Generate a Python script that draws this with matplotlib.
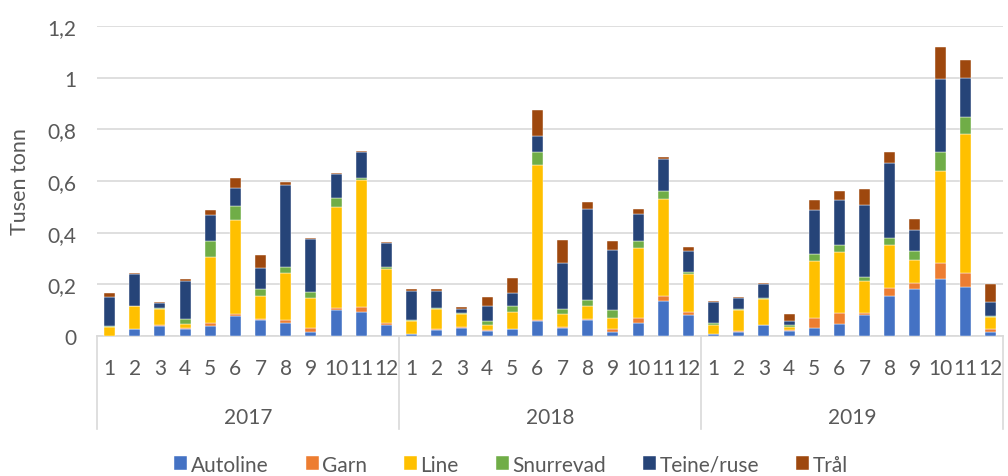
import matplotlib
matplotlib.use('Agg')
import matplotlib.pyplot as plt
from matplotlib.lines import Line2D
import numpy as np

# Landings per month and gear, thousand tonnes (2017-2019)
years = ['2017', '2018', '2019']
months = [str(m) for m in range(1, 13)]

autoline = [0.000, 0.027, 0.038, 0.027, 0.038, 0.076, 0.062, 0.052, 0.017, 0.102, 0.092, 0.043,
            0.007, 0.022, 0.032, 0.019, 0.027, 0.057, 0.031, 0.061, 0.017, 0.050, 0.136, 0.081,
            0.008, 0.017, 0.041, 0.018, 0.031, 0.047, 0.081, 0.156, 0.181, 0.221, 0.190, 0.017]
garn = [0.000, 0.002, 0.003, 0.005, 0.011, 0.010, 0.002, 0.010, 0.014, 0.005, 0.022, 0.006,
        0.002, 0.005, 0.003, 0.006, 0.002, 0.005, 0.005, 0.005, 0.009, 0.021, 0.020, 0.011,
        0.001, 0.001, 0.001, 0.004, 0.040, 0.043, 0.009, 0.030, 0.024, 0.063, 0.055, 0.010]
line = [0.036, 0.087, 0.062, 0.014, 0.256, 0.364, 0.092, 0.183, 0.115, 0.392, 0.489, 0.212,
        0.049, 0.076, 0.051, 0.016, 0.063, 0.599, 0.050, 0.050, 0.045, 0.268, 0.376, 0.149,
        0.034, 0.083, 0.100, 0.014, 0.218, 0.234, 0.124, 0.168, 0.090, 0.353, 0.535, 0.048]
snurrevad = [0.003, 0.002, 0.004, 0.020, 0.064, 0.054, 0.025, 0.021, 0.025, 0.035, 0.009, 0.005,
             0.005, 0.004, 0.002, 0.016, 0.024, 0.051, 0.019, 0.025, 0.030, 0.029, 0.030, 0.005,
             0.006, 0.002, 0.005, 0.007, 0.030, 0.030, 0.016, 0.025, 0.034, 0.074, 0.066, 0.004]
teine = [0.113, 0.122, 0.020, 0.148, 0.099, 0.070, 0.084, 0.318, 0.205, 0.094, 0.101, 0.093,
         0.113, 0.069, 0.018, 0.059, 0.051, 0.064, 0.179, 0.351, 0.232, 0.106, 0.125, 0.083,
         0.084, 0.043, 0.053, 0.014, 0.169, 0.174, 0.278, 0.289, 0.081, 0.284, 0.154, 0.052]
tral = [0.014, 0.005, 0.005, 0.005, 0.019, 0.038, 0.049, 0.014, 0.004, 0.002, 0.004, 0.005,
        0.005, 0.005, 0.005, 0.035, 0.058, 0.099, 0.089, 0.025, 0.035, 0.019, 0.005, 0.017,
        0.003, 0.005, 0.005, 0.028, 0.039, 0.035, 0.060, 0.044, 0.042, 0.124, 0.070, 0.069]

series = [('Autoline', autoline, '#4472C4'),
          ('Garn', garn, '#ED7D31'),
          ('Line', line, '#FFC000'),
          ('Snurrevad', snurrevad, '#70AD47'),
          ('Teine/ruse', teine, '#264478'),
          ('Trål', tral, '#9E480E')]

TEXT = '#595959'
GRID = '#D9D9D9'
plt.rcParams['font.family'] = ['Lato', 'DejaVu Sans']
plt.rcParams['text.color'] = TEXT

fig = plt.figure(figsize=(10.08, 4.77), dpi=100)
ax = fig.add_axes([0.0962, 0.2935, 0.8988, 0.6499])

n = len(autoline)
x = np.arange(n)
bottom = np.zeros(n)
for name, vals, col in series:
    vals = np.array(vals)
    ax.bar(x, vals, width=0.44, bottom=bottom, color=col, label=name,
           edgecolor='white', linewidth=0.3, zorder=3)
    bottom += vals

ax.set_xlim(-0.5, n - 0.5)
ax.set_ylim(0, 1.2)
ax.set_yticks(np.arange(0, 1.21, 0.2))
ax.set_yticklabels(['0', '0,2', '0,4', '0,6', '0,8', '1', '1,2'])
ax.yaxis.grid(True, color=GRID, linewidth=1.2, zorder=0)
ax.tick_params(axis='y', length=0, labelsize=15, colors=TEXT, pad=15)
ax.set_ylabel('Tusen tonn', fontsize=15.5, color=TEXT, labelpad=12)

for s in ['top', 'right', 'left']:
    ax.spines[s].set_visible(False)
ax.spines['bottom'].set_color(GRID)
ax.spines['bottom'].set_linewidth(1.2)

ax.set_xticks(x)
ax.set_xticklabels(months * len(years))
ax.tick_params(axis='x', length=0, labelsize=15, colors=TEXT, pad=16)

# multi-level category axis: year labels and separators
for i, yr in enumerate(years):
    ax.text(i * 12 + 5.5, -0.26, yr, transform=ax.get_xaxis_transform(),
            ha='center', va='center', fontsize=15, color=TEXT)
for b in [-0.5, 11.5, 23.5, 35.5]:
    ax.add_line(Line2D([b, b], [0, -0.30], transform=ax.get_xaxis_transform(),
                       color=GRID, linewidth=1.2, clip_on=False))

fig.legend(loc='center', bbox_to_anchor=(0.507, 0.024), ncol=6, frameon=False,
           fontsize=15, handlelength=0.62, handleheight=0.62, handletextpad=0.15,
           columnspacing=1.8, labelcolor=TEXT)

fig.savefig('out.png', dpi=100)
